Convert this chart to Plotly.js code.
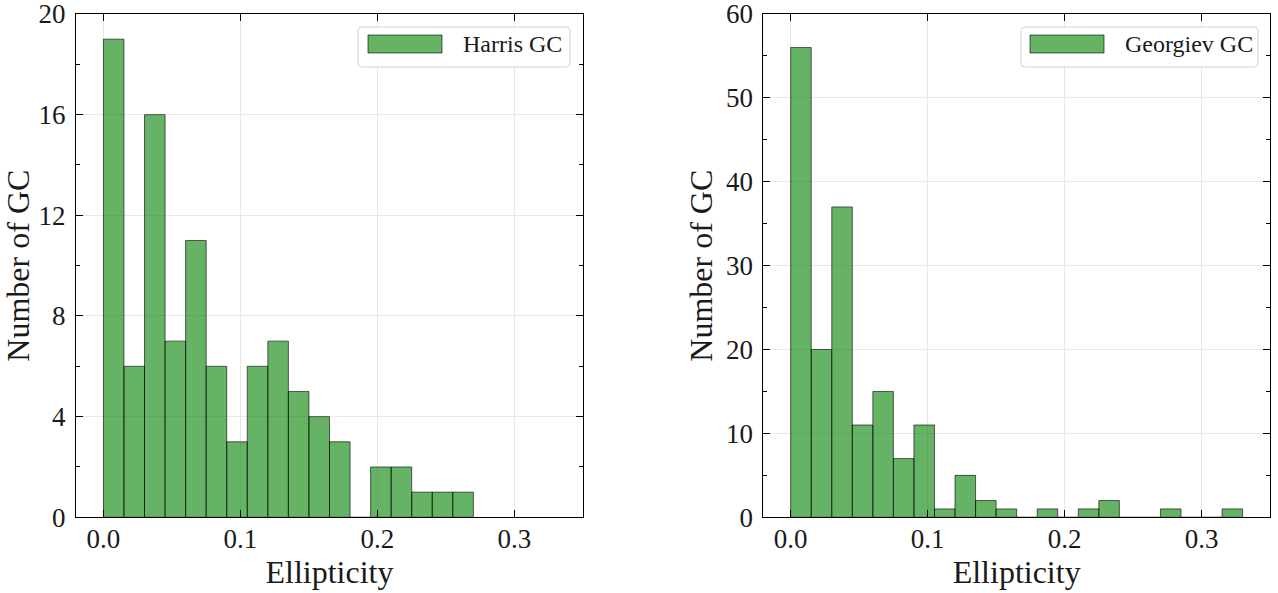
<!DOCTYPE html>
<html>
<head>
<meta charset="utf-8">
<script src="https://cdn.plot.ly/plotly-3.0.1.min.js"></script>
<style>
  html, body { margin: 0; padding: 0; background: #fff; }
  #chart { width: 1278px; height: 593px; }
</style>
</head>
<body>
<div id="chart"></div>
<script>
// ---- Data ----
const binWidth = 0.015;
const harrisBinStart = [0, 0.015, 0.03, 0.045, 0.06, 0.075, 0.09, 0.105, 0.12, 0.135, 0.15, 0.165, 0.18, 0.195, 0.21, 0.225, 0.24, 0.255];
const harrisCounts   = [19, 6, 16, 7, 11, 6, 3, 6, 7, 5, 4, 3, 0, 2, 2, 1, 1, 1];
const georgievBinStart = [0, 0.015, 0.03, 0.045, 0.06, 0.075, 0.09, 0.105, 0.12, 0.135, 0.15, 0.165, 0.18, 0.195, 0.21, 0.225, 0.24, 0.255, 0.27, 0.285, 0.30, 0.315];
const georgievCounts   = [56, 20, 37, 11, 15, 7, 11, 1, 5, 2, 1, 0, 1, 0, 1, 2, 0, 0, 1, 0, 0, 1];
const xTickVals = [0.0, 0.1, 0.2, 0.3];
const xTickText = ['0.0', '0.1', '0.2', '0.3'];
const harrisYTicks = [0, 4, 8, 12, 16, 20];
const georgievYTicks = [0, 10, 20, 30, 40, 50, 60];
const legendNames = ['Harris GC', 'Georgiev GC'];

// ---- Style ----
const W = 1278, H = 593;
const FONT = 'Liberation Serif, serif';
const barFill = 'rgba(0,128,0,0.6)';
const barEdge = 'rgba(0,0,0,0.6)';

function barTrace(xs, ys, name, xa, ya) {
  return {
    type: 'bar', x: xs, y: ys, name: name,
    width: binWidth, offset: 0,
    xaxis: xa, yaxis: ya,
    marker: { color: barFill, line: { color: barEdge, width: 1 } },
    showlegend: false, hoverinfo: 'x+y'
  };
}

const traces = [
  barTrace(harrisBinStart, harrisCounts, legendNames[0], 'x', 'y'),
  barTrace(georgievBinStart, georgievCounts, legendNames[1], 'x2', 'y2')
];

function xAxis(domain, anchor) {
  return {
    domain: domain, anchor: anchor, range: [-0.02, 0.35],
    tickvals: xTickVals, ticktext: xTickText,
    ticks: 'inside', ticklen: 7, tickwidth: 1, tickcolor: '#000',
    showline: true, linecolor: '#000', linewidth: 1, mirror: 'ticks',
    showgrid: true, gridcolor: '#e8e8e8', gridwidth: 1,
    zeroline: false,
    tickfont: { family: FONT, size: 27, color: '#1a1a1a' },
    ticklabelstandoff: -3,
    ticklabeloverflow: 'allow',
    title: { text: 'Ellipticity', font: { family: FONT, size: 32, color: '#1a1a1a' }, standoff: 2 }
  };
}
function yAxis(domain, anchor, maxv, ticks, minorStep) {
  return {
    domain: domain, anchor: anchor, range: [0, maxv],
    tickvals: ticks,
    ticks: 'inside', ticklen: 7, tickwidth: 1, tickcolor: '#000',
    minor: { ticks: 'inside', dtick: minorStep, ticklen: 4, tickwidth: 1, tickcolor: '#000', showgrid: false },
    showline: true, linecolor: '#000', linewidth: 1, mirror: 'ticks',
    showgrid: true, gridcolor: '#e8e8e8', gridwidth: 1,
    zeroline: false,
    tickfont: { family: FONT, size: 27, color: '#1a1a1a' },
    ticklabelstandoff: 4,
    ticklabeloverflow: 'allow',
    title: { text: 'Number of GC', font: { family: FONT, size: 32, color: '#1a1a1a' }, standoff: 3 }
  };
}

const yDom = [(H - 517.3) / H, (H - 14) / H];

// legend decorations (pixel -> paper)
const px = v => v / W;
const py = v => (H - v) / H;
function roundRect(x0, y0, x1, y1, r) {
  const P = (x, y) => px(x) + ',' + py(y);
  return 'M' + P(x0 + r, y0) + ' L' + P(x1 - r, y0) + ' Q' + P(x1, y0) + ' ' + P(x1, y0 + r) +
    ' L' + P(x1, y1 - r) + ' Q' + P(x1, y1) + ' ' + P(x1 - r, y1) +
    ' L' + P(x0 + r, y1) + ' Q' + P(x0, y1) + ' ' + P(x0, y1 - r) +
    ' L' + P(x0, y0 + r) + ' Q' + P(x0, y0) + ' ' + P(x0 + r, y0) + ' Z';
}
const legends = [
  { box: [358, 27, 570, 67], sw: [368, 35, 442, 53], tx: 461, name: legendNames[0] },
  { box: [1021, 27, 1258, 67], sw: [1030, 35, 1104, 53], tx: 1123, name: legendNames[1] }
];
const shapes = [], annotations = [];
legends.forEach(L => {
  shapes.push({ type: 'path', xref: 'paper', yref: 'paper', path: roundRect(L.box[0], L.box[1], L.box[2], L.box[3], 4),
    fillcolor: 'rgba(255,255,255,0.8)', line: { color: '#d4d4d4', width: 1 }, layer: 'above' });
  shapes.push({ type: 'rect', xref: 'paper', yref: 'paper', x0: px(L.sw[0]), x1: px(L.sw[2]), y0: py(L.sw[3]), y1: py(L.sw[1]),
    fillcolor: barFill, line: { color: barEdge, width: 1 }, layer: 'above' });
  annotations.push({ xref: 'paper', yref: 'paper', x: px(L.tx), y: py(44), xanchor: 'left', yanchor: 'middle',
    text: L.name, showarrow: false, font: { family: FONT, size: 24, color: '#1a1a1a' } });
});

const layout = {
  width: W, height: H,
  margin: { l: 0, r: 0, t: 0, b: 0 },
  paper_bgcolor: '#fff', plot_bgcolor: '#fff',
  bargap: 0,
  showlegend: false,
  xaxis: xAxis([76 / W, 583 / W], 'y'),
  yaxis: yAxis(yDom, 'x', 20, harrisYTicks, 2),
  xaxis2: xAxis([763.3 / W, 1270 / W], 'y2'),
  yaxis2: yAxis(yDom, 'x2', 60, georgievYTicks, 5),
  shapes: shapes,
  annotations: annotations
};

Plotly.newPlot('chart', traces, layout, { displayModeBar: false, staticPlot: true });
</script>
</body>
</html>
